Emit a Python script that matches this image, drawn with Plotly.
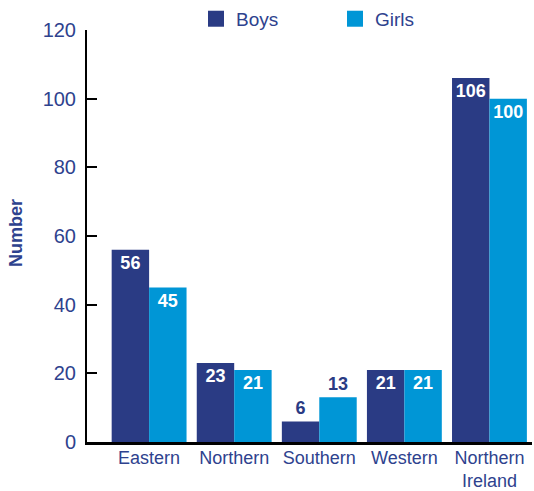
import plotly.graph_objects as go

categories = ["Eastern", "Northern", "Southern", "Western", "Northern<br>Ireland"]
boys = [56, 23, 6, 21, 106]
girls = [45, 21, 13, 21, 100]
y_ticks = [0, 20, 40, 60, 80, 100, 120]

BOYS_C = "#2a3b84"
GIRLS_C = "#0096d6"
TXT_C = "#2e428e"
FONT = "Liberation Sans, Arial, sans-serif"

def positions(vals):
    return ["outside" if v < 15 else "inside" for v in vals]

fig = go.Figure()
for name, vals, col in [("Boys", boys, BOYS_C), ("Girls", girls, GIRLS_C)]:
    fig.add_trace(go.Bar(
        name=name, x=categories, y=vals, marker_color=col, marker_line_width=0,
        text=[str(v) for v in vals], textposition=positions(vals),
        insidetextanchor="end", textangle=0,
        insidetextfont=dict(color="white", size=18, family=FONT, weight="bold"),
        outsidetextfont=dict(color=BOYS_C, size=18, family=FONT, weight="bold"),
        cliponaxis=False, showlegend=False,
    ))
    # legend entry with larger square symbol
    fig.add_trace(go.Scatter(
        name=name, x=[None], y=[None], mode="markers",
        marker=dict(symbol="square", size=18, color=col), showlegend=True,
    ))

fig.update_layout(
    width=534, height=491,
    margin=dict(l=87, r=2, t=30, b=49, autoexpand=False),
    plot_bgcolor="white", paper_bgcolor="white",
    barmode="group", bargap=0.12, bargroupgap=0,
    font=dict(family=FONT, color=TXT_C, size=18),
    legend=dict(
        orientation="h", x=0.245, y=1.027, xanchor="left", yanchor="middle",
        font=dict(size=19, color=TXT_C, family=FONT),
        itemsizing="trace", entrywidth=94, entrywidthmode="pixels",
        bgcolor="rgba(0,0,0,0)",
    ),
    annotations=[dict(
        text="<b>Number</b>", textangle=-90, xref="paper", yref="paper",
        x=-0.16, y=0.507, xanchor="center", yanchor="middle", showarrow=False,
        font=dict(size=18, color=TXT_C, family=FONT),
    )],
)
fig.update_xaxes(
    type="category", range=[-0.73, 4.5], automargin=False,
    showline=True, linecolor="black", linewidth=3,
    ticks="", tickfont=dict(size=18, color=TXT_C), ticklabelstandoff=-3,
    showgrid=False,
)
fig.update_yaxes(
    range=[0, 120], tickvals=y_ticks, automargin=False,
    showline=True, linecolor="black", linewidth=2,
    ticks="inside", ticklen=10, tickwidth=2, tickcolor="black",
    tickfont=dict(size=20, color=TXT_C), ticklabelstandoff=5,
    showgrid=False, zeroline=False,
)

fig.write_html("out.html", config={"displayModeBar": False},
               post_script="document.body.style.margin='0';")
